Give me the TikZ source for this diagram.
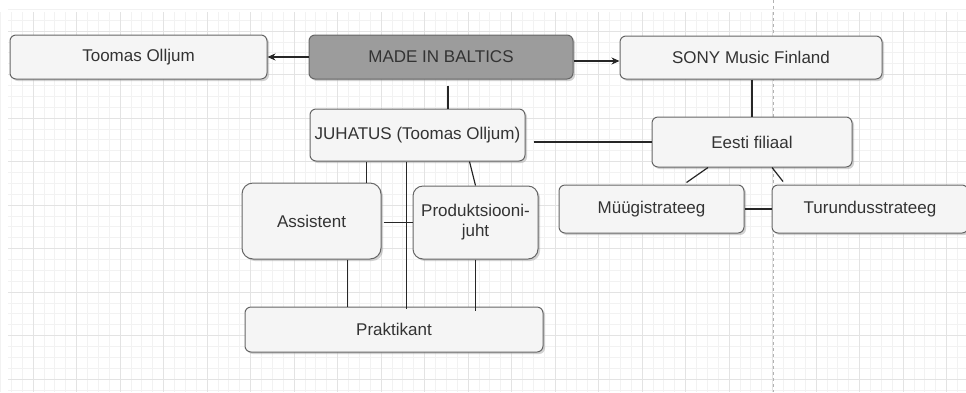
\documentclass[tikz,border=0pt]{standalone}
\usepackage{fontspec}
\setmainfont{Liberation Sans}
\usetikzlibrary{arrows.meta,shadows}
\definecolor{boxfill}{HTML}{F5F5F5}
\definecolor{boxline}{HTML}{666666}
\definecolor{darkfill}{HTML}{9C9C9C}
\definecolor{txt}{HTML}{333333}
\definecolor{minorgrid}{HTML}{F2F2F2}
\definecolor{majorgrid}{HTML}{E3E3E3}
\tikzset{
  unit box/.style={draw=boxline, fill=boxfill, line width=1pt, rounded corners=6pt,
    text=txt, font=\fontsize{17}{20}\selectfont, align=center, inner sep=0pt,
    drop shadow={shadow xshift=2pt, shadow yshift=-2pt, fill=black!35}},
  top box/.style={unit box, fill=darkfill},
  link/.style={line width=1.2pt, draw=black!85},
}
\begin{document}
\begin{tikzpicture}[x=1pt, y=-1pt]
\path[use as bounding box, clip] (0,0) rectangle (966,392);
\fill[white] (0,0) rectangle (966,392);
% Background grid
\foreach \gx in {0.375,11.25,...,966} \draw[minorgrid, line width=0.6pt] (\gx,12) -- (\gx,392);
\foreach \gy in {9.25,20.125,...,392} \draw[minorgrid, line width=0.6pt] (8,\gy) -- (966,\gy);
\foreach \gx in {33,76.5,...,966} \draw[majorgrid, line width=0.8pt] (\gx,12) -- (\gx,392);
\foreach \gy in {31,74.5,...,392} \draw[majorgrid, line width=0.8pt] (8,\gy) -- (966,\gy);
\draw[black!30, dashed, line width=0.8pt] (773,0) -- (773,392);
% Top row
\node[top box, minimum width=264pt, minimum height=44pt] (made) at (441,57) {MADE IN BALTICS};
\node[unit box, minimum width=257pt, minimum height=44pt] (toomas) at (138.5,57) {Toomas Olljum};
\node[unit box, minimum width=262pt, minimum height=43pt] (sony) at (751,57.5) {SONY Music Finland};
% Board and its staff
\node[unit box, minimum width=215pt, minimum height=52pt] (juhatus) at (417.5,135) {JUHATUS (Toomas Olljum)};
\node[unit box, rounded corners=11pt, minimum width=139pt, minimum height=76pt] (assistent) at (311.5,221) {Assistent};
\node[unit box, rounded corners=10pt, minimum width=125pt, minimum height=73pt] (prod) at (475.5,222.5) {Produktsiooni-\\juht};
\node[unit box, minimum width=298pt, minimum height=45pt] (prakt) at (394,329.5) {Praktikant};
% Estonian branch
\node[unit box, minimum width=200pt, minimum height=50pt] (eesti) at (752,142) {Eesti filiaal};
\node[unit box, minimum width=185pt, minimum height=48pt] (myygi) at (651.5,209) {Müügistrateeg};
\node[unit box, minimum width=196pt, minimum height=48pt] (turundus) at (870,209) {Turundusstrateeg};
% Connectors
\draw[link, -{Stealth[length=8pt, width=7pt]}] (made.west) -- (toomas.east);
\draw[link, -{Stealth[length=8pt, width=7pt]}] ([yshift=-4pt]made.east) -- ([yshift=-4pt]made.east -| sony.west);
\draw[link] ([xshift=7pt, yshift=-6pt]made.south) -- ([xshift=7pt]made.south |- juhatus.north);
\draw[link] (sony.south -| eesti.north) -- (eesti.north);
\draw[link] ([xshift=8pt]juhatus.east |- eesti.west) -- (eesti.west);
\draw[link] ([xshift=-44pt]eesti.south) -- ([xshift=35pt, yshift=2pt]myygi.north);
\draw[link] ([xshift=20pt]eesti.south) -- ([xshift=-87pt, yshift=3pt]turundus.north);
\draw[link] (myygi.east |- turundus.west) -- (turundus.west);
\draw[link] ([xshift=55pt]assistent.north) -- ([xshift=55pt]assistent.north |- juhatus.south);
\draw[link] ([xshift=-11pt]juhatus.south) -- ([xshift=-11pt, yshift=-2pt]juhatus.south |- prakt.north);
\draw[link] ([xshift=52pt]juhatus.south) -- (prod.north);
\draw[link] ([xshift=2pt]assistent.east |- prod.west) -- (prod.west);
\draw[link] ([xshift=36pt]assistent.south) -- ([xshift=36pt]assistent.south |- prakt.north);
\draw[link] (prod.south) -- ([yshift=-4pt]prod.south |- prakt.north);
\end{tikzpicture}
\end{document}
